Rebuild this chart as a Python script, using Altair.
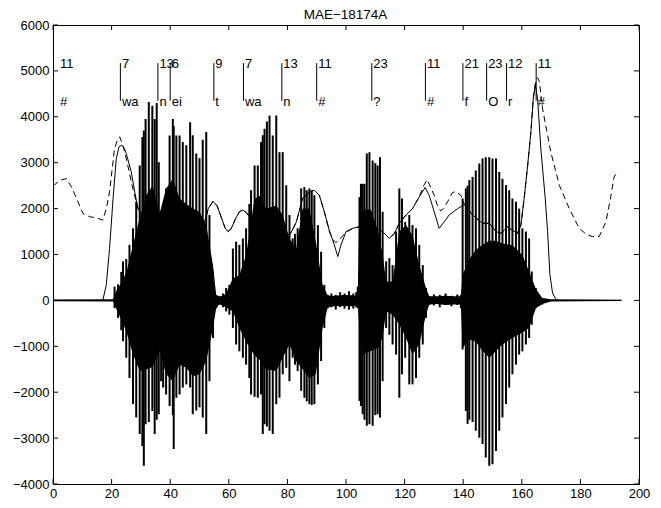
import altair as alt
import pandas as pd

TITLE = "MAE\u221218174A"

x_ticks = list(range(0, 201, 20))
y_ticks = list(range(-4000, 6001, 1000))

# segment labels
seg_x = [1.9, 23.0, 35.8, 40.0, 54.9, 65.0, 78.1, 90.0, 108.8, 127.1, 139.9, 148.0, 154.8, 164.9]
seg_num = ["11", "7", "13", "6", "9", "7", "13", "11", "23", "11", "21", "23", "12", "11"]
seg_lab = ["#", "wa", "n", "ei", "t", "wa", "n", "#", "?", "#", "f", "O", "r", "#"]

# waveform: pitch-period spikes (peak envelope)
spike_x = [21.0, 22.2, 23.3, 23.9, 25.0, 26.1, 27.3, 28.4, 29.6, 30.5, 31.0, 31.6, 32.7, 33.9, 34.7, 35.4,
           36.1, 36.9, 37.6, 38.6, 39.8, 40.9, 41.2, 42.1, 43.2, 44.3, 45.5, 46.8, 47.7, 48.9, 50.0, 51.1,
           52.3, 53.4, 54.6, 55.7,
           56.8, 58.0, 59.1, 60.2,
           61.4, 62.5, 63.6, 64.8, 65.9, 67.0, 67.6, 68.8, 69.9, 71.0, 71.6, 72.2, 73.0, 73.9, 75.0, 76.2,
           77.3, 78.4, 79.6, 80.7, 81.8, 82.6, 83.5, 84.7, 85.8, 86.6, 87.5, 88.3, 89.2, 90.4, 91.5, 92.6, 93.8,
           95.0, 96.5, 98.0, 99.5, 101.0, 102.5, 103.5,
           104.0, 104.6, 105.1, 105.7, 106.3, 107.1, 108.0, 109.1, 110.0, 110.8, 111.6, 112.5, 113.7, 114.8,
           115.9, 117.1, 118.2, 119.1, 120.2, 121.6, 122.7, 123.9, 125.0, 126.2, 127.3, 128.4,
           130.0, 132.0, 134.0, 136.0, 138.0,
           139.2, 139.8, 140.9, 141.5, 142.1, 143.2, 144.3, 145.5, 146.6, 147.7, 148.9, 150.0, 151.2, 152.3,
           153.4, 154.6, 155.7, 156.8, 158.0, 159.1, 160.2, 161.4, 162.5, 163.4, 164.8, 165.9, 167.0]
spike_hi = [300, 350, 620, 850, 900, 1210, 1570, 2150, 2940, 3560, 3700, 3950, 4320, 4240, 3950, 4300,
            3010, 1930, 2000, 2440, 3590, 3950, 3800, 3590, 3590, 3450, 3380, 3880, 3600, 3200, 3100, 3500,
            3670, 1860, 630, 120,
            100, 150, 270, 340,
            1130, 1280, 1210, 1350, 1570, 2100, 2400, 2940, 2940, 3450, 3600, 3740, 3900, 4030, 3590, 4030,
            3230, 3230, 2510, 1860, 1350, 1450, 1570, 2440, 2470, 2400, 2440, 2400, 2290, 1640, 1060, 340, 120,
            150, 120, 180, 150, 200, 150, 180,
            300, 2250, 2540, 2540, 2540, 3200, 3230, 3050, 2990, 2940, 3120, 1930, 850, 920,
            770, 1500, 2440, 2220, 1710, 1860, 1640, 1570, 1210, 770, 270, 90,
            130, 120, 150, 100, 130,
            120, 2220, 2440, 2500, 2620, 2690, 2830, 2980, 3090, 3120, 3120, 3090, 3090, 2800,
            2650, 2510, 2400, 2220, 2150, 2000, 1570, 1500, 1350, 630, 270, 120, 50]
spike_lo = [-170, -380, -650, -890, -1250, -1690, -2260, -2550, -2910, -3170, -3600, -2700, -2650, -2410, -2910, -2600,
            -2480, -1760, -1900, -2050, -2300, -2500, -3240, -2120, -2050, -1900, -1830, -1900, -2480, -2400, -2330, -2550,
            -2910, -1760, -820, -170,
            -95, -150, -240, -310,
            -600, -960, -1110, -1250, -1400, -1690, -2050, -2100, -2120, -2050, -2910, -2700, -2750, -2840, -2910, -2260,
            -2120, -1610, -1470, -1760, -1250, -1400, -1540, -1970, -2120, -2200, -2260, -2280, -2260, -1830, -1320, -600, -170,
            -150, -200, -150, -180, -200, -180, -150,
            -170, -2190, -2300, -2480, -2600, -2730, -2700, -2730, -2500, -2480, -2550, -1760, -600, -750,
            -960, -1180, -2120, -1610, -1250, -1830, -1830, -1690, -1250, -960, -380, -100,
            -110, -150, -100, -130, -100,
            -170, -1070, -2410, -2690, -2600, -2650, -2840, -2990, -3130, -3420, -3600, -3570, -3280, -2840,
            -2550, -2260, -1900, -1610, -1400, -1180, -1110, -960, -820, -530, -170, -120, -90]

# waveform: dense core envelope
env_x = [0, 20.5, 21.5, 23.0, 25.0, 27.3, 29.6, 31.9, 34.0, 36.4, 38.6, 40.9, 43.2, 45.5, 47.7, 50.0, 52.3,
         54.6, 55.7, 56.8, 58.0, 59.1, 61.4, 63.6, 65.9, 68.8, 71.0, 72.7, 76.2, 78.4, 80.7, 83.0, 85.2, 87.5,
         89.7, 92.0, 93.8, 96.0, 99.0, 102.0, 104.0, 104.6, 105.8, 108.5, 111.0, 112.5, 113.7, 115.9, 118.2,
         120.5, 122.7, 125.0, 127.3, 128.4, 131.0, 134.0, 137.0, 139.2, 139.8, 142.1, 144.3, 146.6, 148.9,
         151.2, 153.4, 156.8, 160.2, 162.5, 164.8, 167.0, 170.0, 194.0]
env_hi = [20, 25, 200, 350, 600, 1200, 1800, 2300, 2500, 1900, 2440, 2650, 2220, 2100, 2000, 1930, 1640,
          770, 120, 80, 100, 150, 480, 550, 990, 2220, 2290, 2000, 2070, 1860, 1350, 1130, 2000, 2000,
          1280, 340, 100, 100, 120, 110, 100, 1900, 1980, 1980, 1500, 1000, 410, 410, 1500,
          1640, 1420, 770, 270, 90, 90, 100, 90, 90, 560, 900, 1100, 1210, 1300,
          1300, 1240, 1200, 990, 630, 250, 50, 25, 15]
env_lo = [-20, -25, -170, -380, -670, -1180, -1540, -1500, -1450, -1110, -1610, -1760, -1400, -1470, -1650, -1610, -1320,
          -600, -170, -80, -120, -150, -240, -600, -900, -1200, -1320, -1500, -1540, -1250, -960, -1320, -1500, -1690,
          -1610, -600, -150, -130, -120, -130, -100, -600, -1180, -1100, -1030, -800, -240, -310, -530,
          -820, -1180, -960, -310, -90, -80, -100, -90, -90, -1030, -850, -900, -1100, -1250,
          -1100, -960, -820, -700, -600, -170, -80, -25, -15]

# solid contour
solid_x = [0, 17.0, 18.2, 19.3, 20.5, 21.6, 22.5, 23.3, 24.2, 25.0, 26.7, 27.9, 29.0, 30.5, 33.0, 36.0, 39.0,
           42.0, 45.0, 48.0, 50.0, 51.5, 53.0, 54.6, 56.0, 57.5, 58.7, 59.7, 60.8, 62.3, 63.6, 64.8, 66.0, 67.9,
           70.0, 73.0, 76.0, 79.3, 81.0, 83.0, 85.2, 87.5, 89.2, 90.9, 92.6, 94.3, 96.0, 97.2, 98.3, 100.0,
           102.3, 104.6, 107.0, 110.2, 112.5, 114.8, 116.5, 118.2, 120.5, 122.7, 125.0, 127.0, 128.4, 130.1,
           131.8, 133.5, 135.2, 138.1, 140.4, 143.2, 146.6, 148.9, 151.2, 152.9, 155.1, 156.8, 158.5, 159.7,
           160.8, 162.0, 163.1, 163.9, 164.6, 165.4, 166.5, 168.0, 168.8, 169.6, 170.5, 171.6, 172.5, 194.0]
solid_y = [0, 0, 340, 1130, 2220, 3090, 3340, 3380, 3330, 3200, 2800, 2360, 2000, 1850, 1770, 1750, 1740,
           1720, 1680, 1600, 1520, 1650, 2000, 2160, 2060, 1800, 1580, 1500, 1560, 1780, 1930, 1970, 1910, 1750,
           1700, 1700, 1600, 1420, 1450, 1700, 2220, 2360, 2400, 2290, 1930, 1530, 1210, 955, 1210, 1500,
           1570, 1605, 1600, 1570, 1500, 1350, 1460, 1680, 1860, 2000, 2255, 2460, 2290, 1930,
           1570, 1710, 1860, 2000, 2090, 1860, 1680, 1680, 1500, 1460, 1600, 1530, 1460, 1640,
           2220, 2940, 3665, 4390, 4700, 4390, 3300, 2220, 1500, 560, 160, 20, 0, 0]

# dashed contour
dash_x = [0, 0.6, 2.5, 4.6, 6.5, 8.5, 10.2, 12.5, 14.8, 17.0, 18.2, 19.3, 21.0, 22.2, 22.8, 24.0, 25.5, 27.0,
          29.0, 30.5, 33.0, 36.0, 39.0, 42.0, 45.0, 48.0, 50.0, 51.5, 53.0, 54.6, 56.0, 57.5, 58.7, 59.7, 60.8,
          62.3, 63.6, 64.8, 66.0, 67.9, 70.0, 73.0, 76.0, 79.3, 81.0, 83.0, 85.2, 87.5, 89.2, 90.9, 92.6,
          94.3, 95.5, 96.5, 97.5, 99.0, 100.5, 102.3, 104.6, 107.0, 110.2, 112.5, 114.8, 116.5, 118.2, 120.5,
          122.7, 125.0, 126.5, 127.7, 129.0, 130.1, 131.2, 132.3, 133.3, 134.7, 136.3, 137.5, 139.2, 140.4,
          143.2, 146.6, 148.9, 151.2, 152.9, 155.1, 156.8, 158.5, 159.7, 160.8, 162.0, 163.1, 163.9, 164.8,
          165.4, 166.0, 167.1, 168.5, 169.9, 172.8, 176.2, 179.6, 182.0, 184.1, 186.4, 188.7, 190.2, 191.5, 192.2]
dash_y = [2500, 2523, 2620, 2653, 2450, 2150, 1894, 1822, 1800, 1749, 2000, 2365, 3304, 3536, 3560, 3350, 2950, 2500,
          2000, 1850, 1770, 1750, 1740, 1720, 1680, 1600, 1520, 1650, 2000, 2160, 2060, 1800, 1580, 1500, 1560,
          1780, 1930, 1970, 1910, 1750, 1700, 1700, 1600, 1420, 1450, 1700, 2220, 2360, 2400, 2290, 1930,
          1500, 1330, 1260, 1300, 1420, 1500, 1570, 1605, 1600, 1570, 1500, 1350, 1460, 1680, 1860,
          2000, 2255, 2500, 2630, 2450, 2290, 2070, 1950, 2000, 2150, 2350, 2370, 2290, 2090,
          1860, 1680, 1680, 1500, 1460, 1600, 1530, 1460, 1640, 2220, 2940, 3665, 4390, 4800,
          4850, 4770, 4170, 3700, 3230, 2510, 2000, 1570, 1440, 1390, 1390, 1710, 2200, 2690, 2760]

W, H = 586, 459
FONT = "Liberation Sans"
FS = 13

xs = alt.Scale(domain=[0, 200], nice=False, zero=False)
ys = alt.Scale(domain=[-4000, 6000], nice=False, zero=False)

x_axis = alt.Axis(values=x_ticks, ticks=False, domain=False, grid=False, labelFontSize=FS, labelFont=FONT,
                  labelColor="black", labelPadding=3, labelFlush=False, labelOverlap=False, title=None, format="d")
y_axis = alt.Axis(values=y_ticks, ticks=False, domain=False, grid=False, labelFontSize=FS, labelFont=FONT,
                  labelColor="black", labelPadding=4, labelFlush=False, labelOverlap=False, title=None, format="d")


def X(f):
    return alt.X(f, type="quantitative", scale=xs, axis=x_axis)


def Y(f):
    return alt.Y(f, type="quantitative", scale=ys, axis=y_axis)


def YD(v):
    return alt.YDatum(v, type="quantitative", scale=ys, axis=y_axis)


env_df = pd.DataFrame({"x": env_x, "hi": env_hi, "lo": env_lo})
spike_df = pd.DataFrame({"x": spike_x, "hi": spike_hi, "lo": spike_lo})
solid_df = pd.DataFrame({"x": solid_x, "y": solid_y})
dash_df = pd.DataFrame({"x": dash_x, "y": dash_y})
seg_df = pd.DataFrame({"x": seg_x, "num": seg_num, "lab": seg_lab})
seg_line_df = seg_df.iloc[1:]
xt_df = pd.DataFrame({"t": x_ticks})
yt_df = pd.DataFrame({"t": y_ticks})
title_df = pd.DataFrame({"t": [TITLE]})

core = alt.Chart(env_df).mark_area(color="black", opacity=1, interpolate="linear").encode(
    x=X("x"), y=Y("hi"), y2="lo")
spikes = alt.Chart(spike_df).mark_rule(color="black", strokeWidth=2).encode(
    x=X("x"), y=Y("hi"), y2="lo")
solid = alt.Chart(solid_df).mark_line(color="black", strokeWidth=1).encode(x=X("x"), y=Y("y"))
dashed = alt.Chart(dash_df).mark_line(color="black", strokeWidth=1, strokeDash=[6, 4]).encode(
    x=X("x"), y=Y("y"))
seg_lines = alt.Chart(seg_line_df).mark_rule(color="black", strokeWidth=1).encode(
    x=X("x"), y=YD(5170), y2=alt.Y2Datum(4350))
num_text = alt.Chart(seg_df).mark_text(align="left", baseline="alphabetic", dx=1.5, font=FONT,
                                       fontSize=FS, color="black").encode(
    x=X("x"), y=YD(5054), text="num")
lab_text = alt.Chart(seg_df).mark_text(align="left", baseline="alphabetic", dx=1.5, font=FONT,
                                       fontSize=FS, color="black").encode(
    x=X("x"), y=YD(4243), text="lab")
title_text = alt.Chart(title_df).mark_text(align="center", baseline="alphabetic", font=FONT,
                                           fontSize=13.5, color="black").encode(
    x=alt.value(W / 2 - 0.5), y=alt.value(-6.5), text="t")

tick_bottom = alt.Chart(xt_df).mark_rule(color="black", strokeWidth=1).encode(
    x=X("t"), y=alt.value(H), y2=alt.value(H - 5))
tick_top = alt.Chart(xt_df).mark_rule(color="black", strokeWidth=1).encode(
    x=X("t"), y=alt.value(0), y2=alt.value(5))
tick_left = alt.Chart(yt_df).mark_rule(color="black", strokeWidth=1).encode(
    y=Y("t"), x=alt.value(0), x2=alt.value(5))
tick_right = alt.Chart(yt_df).mark_rule(color="black", strokeWidth=1).encode(
    y=Y("t"), x=alt.value(W), x2=alt.value(W - 5))

chart = alt.layer(core, spikes, solid, dashed, seg_lines, num_text, lab_text, title_text,
                  tick_bottom, tick_top, tick_left, tick_right).properties(
    width=W, height=H,
    autosize=alt.AutoSizeParams(type="none"),
    padding={"left": 45, "top": 17, "right": 14, "bottom": 16},
).configure(background="white").configure_view(stroke="black", strokeWidth=1)

chart.save("out.html", embed_options={"renderer": "svg", "actions": False})
